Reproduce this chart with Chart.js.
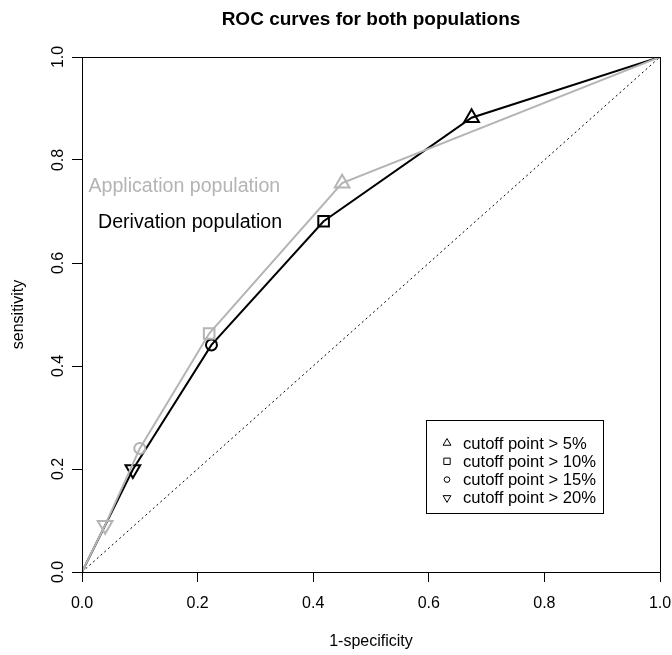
<!DOCTYPE html>
<html>
<head>
<meta charset="utf-8">
<script src="https://cdn.jsdelivr.net/npm/chart.js@4.4.1/dist/chart.umd.min.js"></script>
<style>
  html, body { margin: 0; padding: 0; background: #fff; }
</style>
</head>
<body>
<canvas id="roc" width="672" height="655"></canvas>
<script>
// values: (1-specificity, sensitivity) at each cutoff
// order along the curve: origin, >20%, >15%, >10%, >5%, (1,1)
const derivX = [0, 0.088, 0.224, 0.418, 0.674, 1]
const derivY = [0, 0.199, 0.441, 0.681, 0.882, 1]
const applX = [0, 0.040, 0.100, 0.220, 0.450, 1]
const applY = [0, 0.091, 0.240, 0.463, 0.755, 1]
const chanceX = [0, 1]
const chanceY = [0, 1]
const cutoffLabels = ['cutoff point > 5%', 'cutoff point > 10%', 'cutoff point > 15%', 'cutoff point > 20%']
const xTicks = [0, 0.2, 0.4, 0.6, 0.8, 1]
const yTicks = [0, 0.2, 0.4, 0.6, 0.8, 1]

const FONT = "'Liberation Sans', Arial, sans-serif"
const GRAY = '#b4b4b4'

const toPoints = (xs, ys) => xs.map((x, i) => ({ x: x, y: ys[i] }))

// marker for each point on a curve (no marker on the two end points)
const markStyle = ['circle', 'triangle', 'circle', 'rect', 'triangle', 'circle']
const markRadius = [0, 8.5, 5.5, 7.5, 8.5, 0]
const markRotation = [0, 180, 0, 0, 0, 0]

function curve(label, xs, ys, color) {
  return {
    label: label,
    data: toPoints(xs, ys),
    showLine: true,
    borderColor: color,
    borderWidth: 2,
    pointStyle: markStyle,
    pointRadius: markRadius,
    pointHoverRadius: markRadius,
    pointRotation: markRotation,
    pointBorderColor: color,
    pointBorderWidth: 2,
    pointBackgroundColor: 'rgba(0,0,0,0)'
  }
}

// texts, box and legend that R draws around the plot
const decorations = {
  id: 'decorations',
  afterDraw(chart) {
    const ctx = chart.ctx
    const a = chart.chartArea
    const xs = chart.scales.x
    const ys = chart.scales.y
    ctx.save()

    // full box round the plot region
    ctx.strokeStyle = '#000'
    ctx.lineWidth = 1
    ctx.strokeRect(Math.round(a.left) + 0.5, Math.round(a.top) + 0.5,
      Math.round(a.right - a.left), Math.round(a.bottom - a.top))

    ctx.fillStyle = '#000'
    ctx.textAlign = 'center'
    ctx.textBaseline = 'alphabetic'

    // title
    ctx.font = 'bold 19px ' + FONT
    ctx.fillText('ROC curves for both populations', (a.left + a.right) / 2, 24.5)

    // axis titles
    ctx.font = '16px ' + FONT
    ctx.fillText('1-specificity', (a.left + a.right) / 2, 646)
    ctx.save()
    ctx.translate(23, (a.top + a.bottom) / 2)
    ctx.rotate(-Math.PI / 2)
    ctx.fillText('sensitivity', 0, 0)
    ctx.restore()

    // y tick labels, rotated like R's default
    yTicks.forEach(v => {
      ctx.save()
      ctx.translate(63, ys.getPixelForValue(v))
      ctx.rotate(-Math.PI / 2)
      ctx.fillText(v.toFixed(1), 0, 0)
      ctx.restore()
    })

    // curve labels
    ctx.font = '19.6px ' + FONT
    ctx.fillStyle = GRAY
    ctx.fillText('Application population', xs.getPixelForValue(0.177), ys.getPixelForValue(0.751) + 7)
    ctx.fillStyle = '#000'
    ctx.fillText('Derivation population', xs.getPixelForValue(0.187), ys.getPixelForValue(0.681) + 7)

    // legend box
    ctx.strokeRect(426.5, 420.5, 177, 93)
    const legendMarks = [
      { pointStyle: 'triangle', radius: 4.5, rotation: 0 },
      { pointStyle: 'rect', radius: 4.5, rotation: 0 },
      { pointStyle: 'circle', radius: 2.8, rotation: 0 },
      { pointStyle: 'triangle', radius: 4.5, rotation: 180 }
    ]
    ctx.font = '16.6px ' + FONT
    ctx.textAlign = 'left'
    cutoffLabels.forEach((txt, i) => {
      const cy = 443 + i * 18.3
      ctx.fillStyle = 'rgba(0,0,0,0)'
      ctx.strokeStyle = '#000'
      ctx.lineWidth = 1
      Chart.helpers.drawPoint(ctx, Object.assign({ borderWidth: 1 }, legendMarks[i]), 447, cy)
      ctx.fillStyle = '#000'
      ctx.fillText(txt, 463, cy + 5.5)
    })

    ctx.restore()
  }
}

const ctx = document.getElementById('roc')
new Chart(ctx, {
  type: 'scatter',
  data: {
    datasets: [
      curve('Application population', applX, applY, GRAY),
      curve('Derivation population', derivX, derivY, '#000'),
      {
        label: 'chance',
        data: toPoints(chanceX, chanceY),
        showLine: true,
        borderColor: '#000',
        borderWidth: 1,
        borderDash: [2, 3],
        pointRadius: 0
      }
    ]
  },
  options: {
    responsive: false,
    devicePixelRatio: 1,
    animation: false,
    layout: { padding: { top: 57, right: 12, bottom: 0, left: 0 } },
    plugins: {
      legend: { display: false },
      tooltip: { enabled: false },
      title: { display: false }
    },
    scales: {
      x: {
        type: 'linear',
        min: 0,
        max: 1,
        afterBuildTicks: s => { s.ticks = xTicks.map(v => ({ value: v })) },
        afterFit: s => { s.height = 83; s.paddingLeft = 0; s.paddingRight = 0 },
        grid: { drawOnChartArea: false, drawTicks: true, tickLength: 10, color: '#000' },
        border: { display: true, color: '#000', width: 1 },
        ticks: {
          color: '#000',
          font: { family: FONT, size: 16 },
          padding: 12,
          maxRotation: 0,
          autoSkip: false,
          callback: v => v.toFixed(1)
        }
      },
      y: {
        type: 'linear',
        min: 0,
        max: 1,
        afterBuildTicks: s => { s.ticks = yTicks.map(v => ({ value: v })) },
        afterFit: s => { s.width = 82; s.paddingTop = 0; s.paddingBottom = 0 },
        grid: { drawOnChartArea: false, drawTicks: true, tickLength: 10, color: '#000' },
        border: { display: true, color: '#000', width: 1 },
        ticks: { display: false }
      }
    }
  },
  plugins: [decorations]
})
</script>
</body>
</html>
